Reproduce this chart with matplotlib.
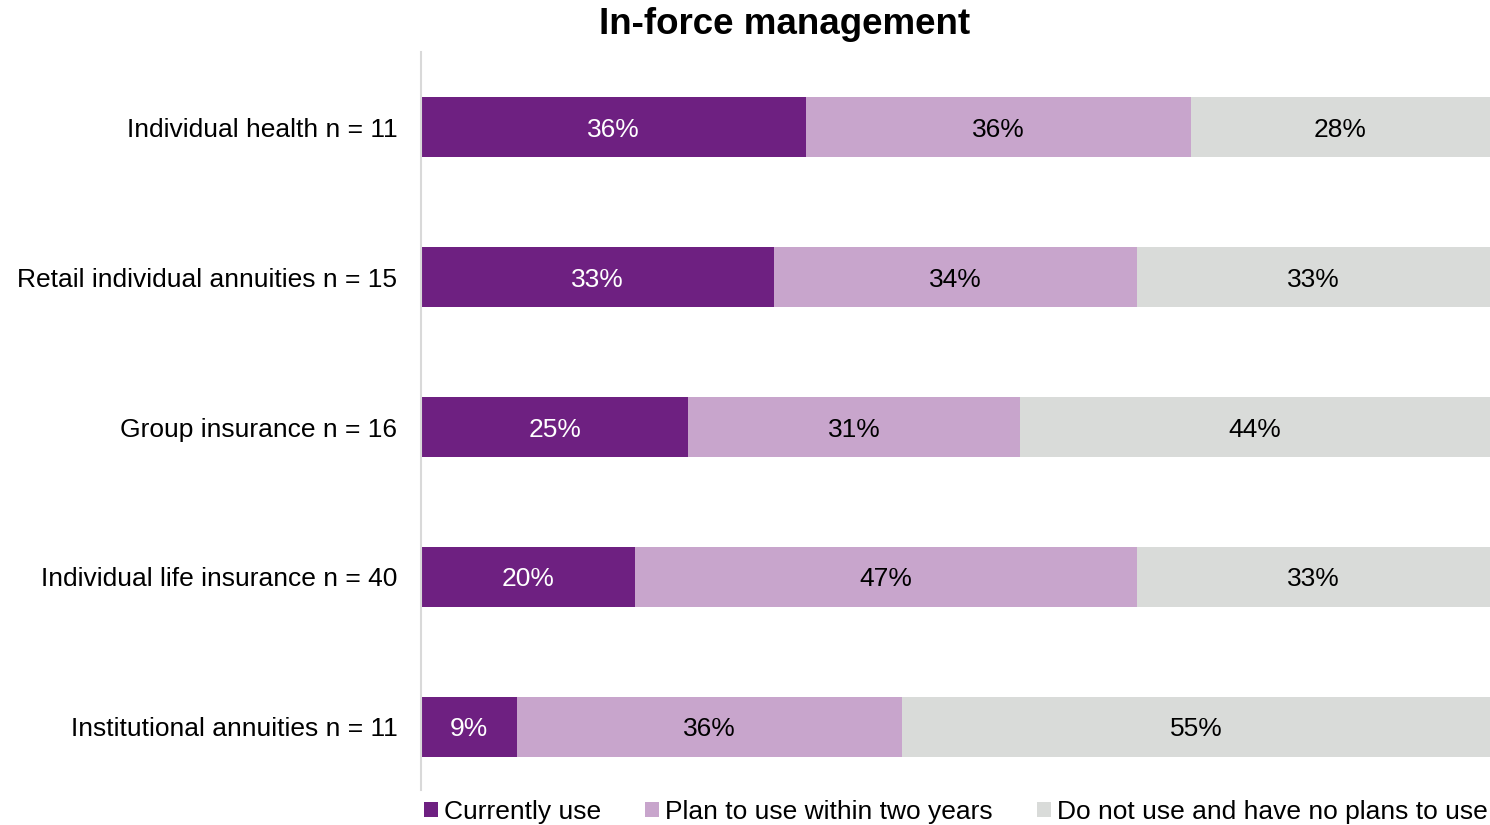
import matplotlib.pyplot as plt
import numpy as np

plt.rcParams['font.family'] = ['Liberation Sans', 'DejaVu Sans']

# data
categories = ['Individual health n = 11', 'Retail individual annuities n = 15',
              'Group insurance n = 16', 'Individual life insurance n = 40',
              'Institutional annuities n = 11']
currently = [36, 33, 25, 20, 9]
plan = [36, 34, 31, 47, 36]
no_plans = [28, 33, 44, 33, 55]
series_names = ['Currently use', 'Plan to use within two years',
                'Do not use and have no plans to use']
colors = ['#6E2081', '#C8A5CC', '#D9DBD9']
text_colors = ['white', 'black', 'black']

fig = plt.figure(figsize=(14.9, 8.25), dpi=100)
ax = fig.add_axes([421/1490, 1 - 802/825, 1069/1490, 750/825])

y = np.arange(len(categories))
left = np.zeros(len(categories))
for vals, name, c, tc in zip([currently, plan, no_plans], series_names, colors, text_colors):
    ax.barh(y, vals, left=left, height=0.4, color=c, label=name)
    for yi, l, v in zip(y, left, vals):
        ax.text(l + v / 2, yi, f'{v}%', ha='center', va='center_baseline',
                color=tc, fontsize=19)
    left += np.array(vals)

ax.set_xlim(0, 100)
ax.set_ylim(4.5, -0.5)
ax.set_yticks(y)
ax.set_yticklabels(categories, fontsize=19)
ax.tick_params(axis='y', length=0, pad=17)
ax.set_xticks([])
for s in ['top', 'right', 'bottom']:
    ax.spines[s].set_visible(False)
ax.spines['left'].set_color('#D9D9D9')
ax.spines['left'].set_linewidth(1.5)
ax.spines['left'].set_bounds(-0.5, 4.42)

fig.text(785/1490, 1 - 25/825, 'In-force management', ha='center', va='center',
         fontsize=26.5, fontweight='bold')

ax.legend(loc='center left', bbox_to_anchor=(3/1069, -10/750), ncol=3, frameon=False,
          fontsize=19, handlelength=0.53, handleheight=0.53, handletextpad=0.23,
          columnspacing=1.67, borderaxespad=0, borderpad=0)

fig.savefig('out.png', dpi=100)
